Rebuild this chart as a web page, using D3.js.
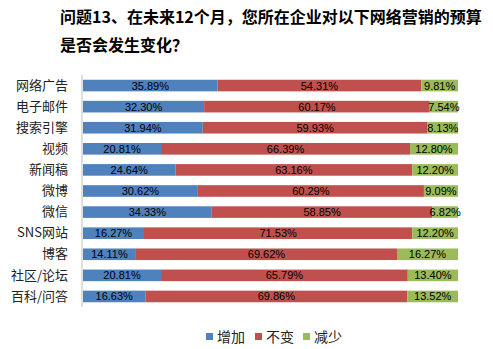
<!DOCTYPE html>
<html>
<head>
<meta charset="utf-8">
<script src="https://cdn.jsdelivr.net/npm/d3@7"></script>
<style>
  html, body { margin: 0; padding: 0; background: #fff; }
  svg { display: block; }
</style>
</head>
<body>
<svg id="chart" width="493" height="349"></svg>
<script>
// Survey answers per online channel (percent of respondents)
const categories = ["网络广告", "电子邮件", "搜索引擎", "视频", "新闻稿", "微博", "微信", "SNS网站", "博客", "社区/论坛", "百科/问答"];
const increase = [35.89, 32.30, 31.94, 20.81, 24.64, 30.62, 34.33, 16.27, 14.11, 20.81, 16.63];
const unchanged = [54.31, 60.17, 59.93, 66.39, 63.16, 60.29, 58.85, 71.53, 69.62, 65.79, 69.86];
const decrease = [9.81, 7.54, 8.13, 12.80, 12.20, 9.09, 6.82, 12.20, 16.27, 13.40, 13.52];
const seriesNames = ["增加", "不变", "减少"];
const colors = ["#4F81BD", "#C0504D", "#9BBB59"];
const titleLines = ["问题13、在未来12个月，您所在企业对以下网络营销的预算", "是否会发生变化？"];

const svg = d3.select("#chart");
const cjk = "'Noto Sans CJK SC', 'Noto Sans', sans-serif";
const numFont = "'Liberation Sans', Arial, sans-serif";

// Title
svg.append("g").selectAll("text").data(titleLines).join("text")
  .attr("x", 60)
  .attr("y", (d, i) => 23 + i * 28)
  .attr("font-family", cjk)
  .attr("font-weight", "bold")
  .attr("font-size", 16)
  .attr("fill", "#000")
  .text(d => d);

const x = d3.scaleLinear().domain([0, 100]).range([83, 458]);
const y = d3.scaleBand().domain(categories).range([75, 307])
  .paddingInner(0.45).paddingOuter(0.225);

// Stack the three series
const rows = categories.map((c, i) => ({ cat: c, 增加: increase[i], 不变: unchanged[i], 减少: decrease[i] }));
const stack = d3.stack().keys(seriesNames)(rows);

const layers = svg.append("g").selectAll("g").data(stack).join("g")
  .attr("fill", (d, i) => colors[i]);

layers.selectAll("rect").data(d => d).join("rect")
  .attr("x", d => x(d[0]))
  .attr("y", d => y(d.data.cat))
  .attr("width", d => x(d[1]) - x(d[0]))
  .attr("height", y.bandwidth());

// Value labels centred in each segment
svg.append("g").selectAll("g").data(stack).join("g")
  .selectAll("text").data(d => d.map(v => ({ v, key: d.key }))).join("text")
  .attr("x", d => (x(d.v[0]) + x(d.v[1])) / 2)
  .attr("y", d => y(d.v.data.cat) + y.bandwidth() / 2)
  .attr("dy", "0.36em")
  .attr("text-anchor", "middle")
  .attr("font-family", numFont)
  .attr("font-size", 11)
  .attr("fill", "#000")
  .text(d => d.v.data[d.key].toFixed(2) + "%");

// Category axis
const yAxis = svg.append("g")
  .attr("transform", "translate(82,0)")
  .call(d3.axisLeft(y).tickSize(0).tickPadding(14));
yAxis.select(".domain").attr("stroke", "#bfbfbf").attr("d", "M0,75V307");
yAxis.selectAll("text")
  .attr("font-family", cjk)
  .attr("font-size", 13)
  .attr("fill", "#222");

// Legend
const legendX = [206, 255, 303];
const legend = svg.append("g").selectAll("g").data(seriesNames).join("g")
  .attr("transform", (d, i) => `translate(${legendX[i]},333)`);
legend.append("rect")
  .attr("width", 7).attr("height", 7)
  .attr("fill", (d, i) => colors[i]);
legend.append("text")
  .attr("x", 11).attr("y", 4)
  .attr("dy", "0.36em")
  .attr("font-family", cjk)
  .attr("font-size", 14)
  .attr("fill", "#222")
  .text(d => d);
</script>
</body>
</html>
